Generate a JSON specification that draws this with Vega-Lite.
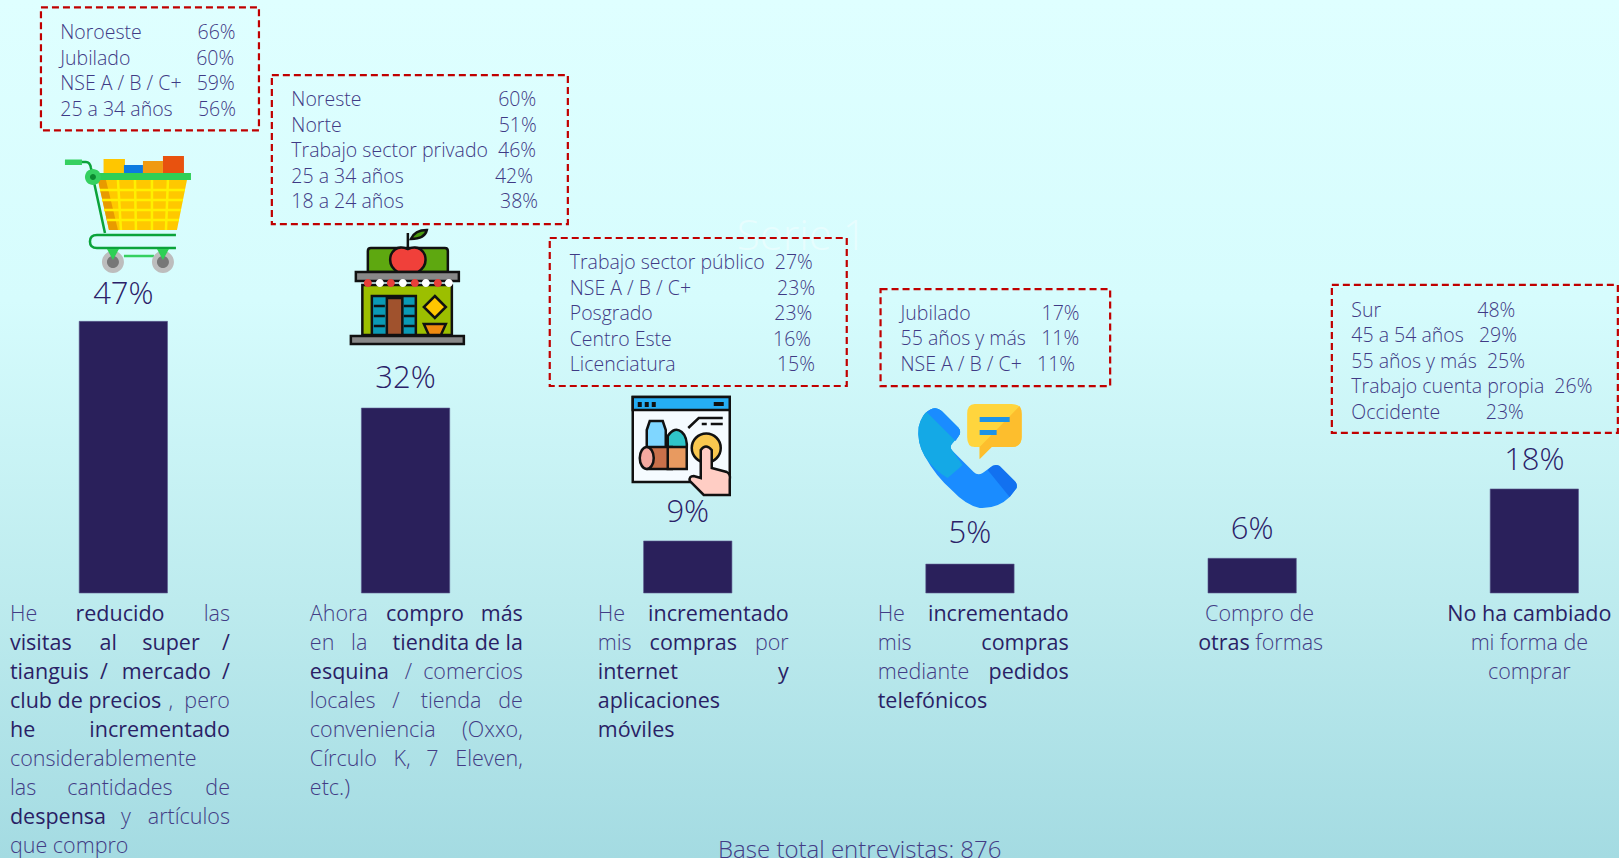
{"$schema":"https://vega.github.io/schema/vega-lite/v6.json","width":1619,"height":858,"autosize":{"type":"none"},"padding":0,"background":"#A5DCE2",
"view":{"stroke":null,"fill":{"gradient":"linear","x1":0,"y1":0,"x2":0,"y2":1,"stops":[{"offset":0,"color":"#DFFFFF"},{"offset":0.35,"color":"#D6FCFD"},{"offset":0.7,"color":"#BDEBEE"},{"offset":1,"color":"#A4DBE2"}]}},
"config":{"font":"Open Sans","text":{"font":"Open Sans"}},
"datasets":{
"barras":[{"categoria":"A","valor":47},{"categoria":"B","valor":32},{"categoria":"C","valor":9},{"categoria":"D","valor":5},{"categoria":"E","valor":6},{"categoria":"F","valor":18}],
"leyendas":[
{"categoria":"A","fila":0,"linea":"Noroeste\u00a0\u00a0\u00a0\u00a0\u00a0\u00a0\u00a0\u00a0\u00a0\u00a0\u00a066%"},{"categoria":"A","fila":1,"linea":"Jubilado\u00a0\u00a0\u00a0\u00a0\u00a0\u00a0\u00a0\u00a0\u00a0\u00a0\u00a0\u00a0\u00a060%"},{"categoria":"A","fila":2,"linea":"NSE A / B / C+\u00a0\u00a0\u00a059%"},{"categoria":"A","fila":3,"linea":"25 a 34 años\u00a0\u00a0\u00a0\u00a0\u00a056%"},
{"categoria":"B","fila":0,"linea":"Noreste\u00a0\u00a0\u00a0\u00a0\u00a0\u00a0\u00a0\u00a0\u00a0\u00a0\u00a0\u00a0\u00a0\u00a0\u00a0\u00a0\u00a0\u00a0\u00a0\u00a0\u00a0\u00a0\u00a0\u00a0\u00a0\u00a0\u00a060%"},{"categoria":"B","fila":1,"linea":"Norte\u00a0\u00a0\u00a0\u00a0\u00a0\u00a0\u00a0\u00a0\u00a0\u00a0\u00a0\u00a0\u00a0\u00a0\u00a0\u00a0\u00a0\u00a0\u00a0\u00a0\u00a0\u00a0\u00a0\u00a0\u00a0\u00a0\u00a0\u00a0\u00a0\u00a0\u00a051%"},{"categoria":"B","fila":2,"linea":"Trabajo sector privado\u00a0\u00a046%"},{"categoria":"B","fila":3,"linea":"25 a 34 años\u00a0\u00a0\u00a0\u00a0\u00a0\u00a0\u00a0\u00a0\u00a0\u00a0\u00a0\u00a0\u00a0\u00a0\u00a0\u00a0\u00a0\u00a042%"},{"categoria":"B","fila":4,"linea":"18 a 24 años\u00a0\u00a0\u00a0\u00a0\u00a0\u00a0\u00a0\u00a0\u00a0\u00a0\u00a0\u00a0\u00a0\u00a0\u00a0\u00a0\u00a0\u00a0\u00a038%"},
{"categoria":"C","fila":0,"linea":"Trabajo sector público\u00a0\u00a027%"},{"categoria":"C","fila":1,"linea":"NSE A / B / C+\u00a0\u00a0\u00a0\u00a0\u00a0\u00a0\u00a0\u00a0\u00a0\u00a0\u00a0\u00a0\u00a0\u00a0\u00a0\u00a0\u00a023%"},{"categoria":"C","fila":2,"linea":"Posgrado\u00a0\u00a0\u00a0\u00a0\u00a0\u00a0\u00a0\u00a0\u00a0\u00a0\u00a0\u00a0\u00a0\u00a0\u00a0\u00a0\u00a0\u00a0\u00a0\u00a0\u00a0\u00a0\u00a0\u00a023%"},{"categoria":"C","fila":3,"linea":"Centro Este\u00a0\u00a0\u00a0\u00a0\u00a0\u00a0\u00a0\u00a0\u00a0\u00a0\u00a0\u00a0\u00a0\u00a0\u00a0\u00a0\u00a0\u00a0\u00a0\u00a016%"},{"categoria":"C","fila":4,"linea":"Licenciatura\u00a0\u00a0\u00a0\u00a0\u00a0\u00a0\u00a0\u00a0\u00a0\u00a0\u00a0\u00a0\u00a0\u00a0\u00a0\u00a0\u00a0\u00a0\u00a0\u00a015%"},
{"categoria":"D","fila":0,"linea":"Jubilado\u00a0\u00a0\u00a0\u00a0\u00a0\u00a0\u00a0\u00a0\u00a0\u00a0\u00a0\u00a0\u00a0\u00a017%"},{"categoria":"D","fila":1,"linea":"55 años y más\u00a0\u00a0\u00a011%"},{"categoria":"D","fila":2,"linea":"NSE A / B / C+\u00a0\u00a0\u00a011%"},
{"categoria":"F","fila":0,"linea":"Sur\u00a0\u00a0\u00a0\u00a0\u00a0\u00a0\u00a0\u00a0\u00a0\u00a0\u00a0\u00a0\u00a0\u00a0\u00a0\u00a0\u00a0\u00a0\u00a048%"},{"categoria":"F","fila":1,"linea":"45 a 54 años\u00a0\u00a0\u00a029%"},{"categoria":"F","fila":2,"linea":"55 años y más\u00a0\u00a025%"},{"categoria":"F","fila":3,"linea":"Trabajo cuenta propia\u00a0\u00a026%"},{"categoria":"F","fila":4,"linea":"Occidente\u00a0\u00a0\u00a0\u00a0\u00a0\u00a0\u00a0\u00a0\u00a023%"}],
"textos":[
{"categoria":"A","fila":0,"texto":"He","lado":"left","negrita":false},{"categoria":"A","fila":0,"texto":"reducido","lado":"center","negrita":true},{"categoria":"A","fila":0,"texto":"las","lado":"right","negrita":false},
{"categoria":"A","fila":1,"texto":"visitas\u00a0\u00a0\u00a0\u00a0\u00a0al","lado":"left","negrita":true},{"categoria":"A","fila":1,"texto":"super\u00a0\u00a0\u00a0\u00a0/","lado":"right","negrita":true},
{"categoria":"A","fila":2,"texto":"tianguis\u00a0\u00a0/","lado":"left","negrita":true},{"categoria":"A","fila":2,"texto":"mercado\u00a0\u00a0/","lado":"right","negrita":true},
{"categoria":"A","fila":3,"texto":"club de precios","lado":"left","negrita":true},{"categoria":"A","fila":3,"texto":",\u00a0\u00a0pero","lado":"right","negrita":false},
{"categoria":"A","fila":4,"texto":"he","lado":"left","negrita":true},{"categoria":"A","fila":4,"texto":"incrementado","lado":"right","negrita":true},
{"categoria":"A","fila":5,"texto":"considerablemente","lado":"left","negrita":false},
{"categoria":"A","fila":6,"texto":"las","lado":"left","negrita":false},{"categoria":"A","fila":6,"texto":"cantidades","lado":"center","negrita":false},{"categoria":"A","fila":6,"texto":"de","lado":"right","negrita":false},
{"categoria":"A","fila":7,"texto":"despensa","lado":"left","negrita":true},{"categoria":"A","fila":7,"texto":"y\u00a0\u00a0\u00a0artículos","lado":"right","negrita":false},
{"categoria":"A","fila":8,"texto":"que compro","lado":"left","negrita":false},
{"categoria":"B","fila":0,"texto":"Ahora","lado":"left","negrita":false},{"categoria":"B","fila":0,"texto":"compro\u00a0\u00a0\u00a0más","lado":"right","negrita":true},
{"categoria":"B","fila":1,"texto":"en\u00a0\u00a0\u00a0la","lado":"left","negrita":false},{"categoria":"B","fila":1,"texto":"tiendita de la","lado":"right","negrita":true},
{"categoria":"B","fila":2,"texto":"esquina","lado":"left","negrita":true},{"categoria":"B","fila":2,"texto":"/\u00a0\u00a0comercios","lado":"right","negrita":false},
{"categoria":"B","fila":3,"texto":"locales\u00a0\u00a0\u00a0/","lado":"left","negrita":false},{"categoria":"B","fila":3,"texto":"tienda\u00a0\u00a0\u00a0de","lado":"right","negrita":false},
{"categoria":"B","fila":4,"texto":"conveniencia","lado":"left","negrita":false},{"categoria":"B","fila":4,"texto":"(Oxxo,","lado":"right","negrita":false},
{"categoria":"B","fila":5,"texto":"Círculo\u00a0\u00a0\u00a0K,","lado":"left","negrita":false},{"categoria":"B","fila":5,"texto":"7\u00a0\u00a0\u00a0Eleven,","lado":"right","negrita":false},
{"categoria":"B","fila":6,"texto":"etc.)","lado":"left","negrita":false},
{"categoria":"C","fila":0,"texto":"He","lado":"left","negrita":false},{"categoria":"C","fila":0,"texto":"incrementado","lado":"right","negrita":true},
{"categoria":"C","fila":1,"texto":"mis","lado":"left","negrita":false},{"categoria":"C","fila":1,"texto":"compras","lado":"center","negrita":true},{"categoria":"C","fila":1,"texto":"por","lado":"right","negrita":false},
{"categoria":"C","fila":2,"texto":"internet","lado":"left","negrita":true},{"categoria":"C","fila":2,"texto":"y","lado":"right","negrita":true},
{"categoria":"C","fila":3,"texto":"aplicaciones","lado":"left","negrita":true},{"categoria":"C","fila":4,"texto":"móviles","lado":"left","negrita":true},
{"categoria":"D","fila":0,"texto":"He","lado":"left","negrita":false},{"categoria":"D","fila":0,"texto":"incrementado","lado":"right","negrita":true},
{"categoria":"D","fila":1,"texto":"mis","lado":"left","negrita":false},{"categoria":"D","fila":1,"texto":"compras","lado":"right","negrita":true},
{"categoria":"D","fila":2,"texto":"mediante","lado":"left","negrita":false},{"categoria":"D","fila":2,"texto":"pedidos","lado":"right","negrita":true},
{"categoria":"D","fila":3,"texto":"telefónicos","lado":"left","negrita":true},
{"categoria":"E","fila":0,"texto":"Compro de","lado":"center","negrita":false},{"categoria":"E","fila":1,"texto":"otras","lado":"left","negrita":true},{"categoria":"E","fila":1,"texto":"formas","lado":"right","negrita":false},
{"categoria":"F","fila":0,"texto":"No ha cambiado","lado":"center","negrita":true},{"categoria":"F","fila":1,"texto":"mi forma de","lado":"center","negrita":false},{"categoria":"F","fila":2,"texto":"comprar","lado":"center","negrita":false}],
"piezas":[
{"categoria":"A","pieza":"c1"},{"categoria":"A","pieza":"c2"},{"categoria":"A","pieza":"c3"},{"categoria":"A","pieza":"c4"},{"categoria":"A","pieza":"c5"},{"categoria":"A","pieza":"c6"},{"categoria":"A","pieza":"c7"},{"categoria":"A","pieza":"c8"},{"categoria":"A","pieza":"c9"},{"categoria":"A","pieza":"c10"},{"categoria":"A","pieza":"c11"},{"categoria":"A","pieza":"c12"},{"categoria":"A","pieza":"c13"},{"categoria":"A","pieza":"c14"},{"categoria":"A","pieza":"c15"},{"categoria":"A","pieza":"c16"},{"categoria":"A","pieza":"c17"},
{"categoria":"B","pieza":"t1"},{"categoria":"B","pieza":"t2"},{"categoria":"B","pieza":"t3"},{"categoria":"B","pieza":"t4"},{"categoria":"B","pieza":"t5"},{"categoria":"B","pieza":"t6"},{"categoria":"B","pieza":"t7"},{"categoria":"B","pieza":"t8"},{"categoria":"B","pieza":"t9"},{"categoria":"B","pieza":"t10"},{"categoria":"B","pieza":"t11"},{"categoria":"B","pieza":"t12"},{"categoria":"B","pieza":"t13"},{"categoria":"B","pieza":"t14"},
{"categoria":"C","pieza":"w1"},{"categoria":"C","pieza":"w2"},{"categoria":"C","pieza":"w3"},{"categoria":"C","pieza":"w4"},{"categoria":"C","pieza":"w5"},{"categoria":"C","pieza":"w6"},{"categoria":"C","pieza":"w7"},{"categoria":"C","pieza":"w8"},{"categoria":"C","pieza":"w9"},{"categoria":"C","pieza":"w10"},{"categoria":"C","pieza":"w11"},
{"categoria":"D","pieza":"f1"},{"categoria":"D","pieza":"f2"},{"categoria":"D","pieza":"f3"},{"categoria":"D","pieza":"f4"},{"categoria":"D","pieza":"f5"},{"categoria":"D","pieza":"f6"},{"categoria":"D","pieza":"f7"}]
},
"encoding":{"x":{"field":"categoria","type":"nominal","axis":null,"scale":{"type":"band","domain":["A","B","C","D","E","F"],"range":[-17.75,1675.45],"paddingInner":0.687,"paddingOuter":0.3435}}},
"layer":[
{"data":{"values":[{"categoria":"C","nota":"Serie 1"}]},"mark":{"type":"text","fontSize":42,"fontWeight":300,"fill":"#FFFFFF","opacity":0.4,"dx":114,"baseline":"middle"},"encoding":{"y":{"datum":61.6,"type":"quantitative","axis":null,"scale":{"domain":[-45.85,102.6],"nice":false,"zero":false}},"text":{"field":"nota"}}},
{"data":{"name":"barras"},"mark":{"type":"bar","fill":"#2A205B","stroke":"#5D5A8E","strokeWidth":0.6},"encoding":{"y":{"field":"valor","type":"quantitative","axis":null,"scale":{"domain":[-45.85,102.6],"nice":false,"zero":false}}}},
{"data":{"name":"barras"},"transform":[{"calculate":"datum.valor+'%'","as":"etq"}],"mark":{"type":"text","fontSize":31,"fontWeight":300,"fill":"#2B2168","baseline":"middle","dy":{"expr":"{A:-26,B:-29.5,C:-28,D:-30,E:-28,F:-28}[datum.categoria]"}},"encoding":{"y":{"field":"valor","type":"quantitative"},"text":{"field":"etq"}}},
{"data":{"name":"piezas"},"transform":[{"lookup":"categoria","from":{"data":{"name":"barras"},"key":"categoria","fields":["valor"]}}],
"mark":{"type":"point","filled":true,"opacity":1,"size":4,"strokeWidth":2.5,"xOffset":{"expr":"{A:-123.4,B:-405.7,C:-688,D:-970.3}[datum.categoria]"},"yOffset":{"expr":"{A:-321.34,B:-408.04,C:-540.98,D:-564.1}[datum.categoria]"}},
"encoding":{"y":{"field":"valor","type":"quantitative"},
"shape":{"field":"pieza","type":"nominal","legend":null,"scale":{"domain":["c1","c2","c3","c4","c5","c6","c7","c8","c9","c10","c11","c12","c13","c14","c15","c16","c17","t1","t2","t3","t4","t5","t6","t7","t8","t9","t10","t11","t12","t13","t14","w1","w2","w3","w4","w5","w6","w7","w8","w9","w10","w11","f1","f2","f3","f4","f5","f6","f7"],
"range":["M103.6 159L125 159L125 173L103.6 173Z","M124 165L143 165L143 173L124 173Z","M143 161L163 161L163 173L143 173Z","M163 156L184 156L184 173L163 173Z","M98 180L187 180L177 230L109 230Z","M98 180L106 180L118 230L109 230Z","M100 190L185 190M102 200L183 200M104 210L181 210M107 220L179 220M118 180L121 230M135 180L136 230M152 180L152 230M168 180L166 230","M89 173L191 173L191 180L89 180Z","M68 162L86 162Q90 162 91 168L105 233","M65 159.5L82 159.5L82 165L65 165Z","M85 177A8 8 0 1 0 101 177A8 8 0 1 0 85 177Z","M176 235L97 235Q90 235 90 241.5Q90 248 97 248L176 248","M124 256L154 256","M102 262A11 11 0 1 0 124 262A11 11 0 1 0 102 262ZM152 262A11 11 0 1 0 174 262A11 11 0 1 0 152 262Z","M107 262A6 6 0 1 0 119 262A6 6 0 1 0 107 262ZM157 262A6 6 0 1 0 169 262A6 6 0 1 0 157 262Z","M107 249L119 249L113 260ZM157 249L169 249L163 260Z","M90 177A3 3 0 1 0 96 177A3 3 0 1 0 90 177Z",
"M368 272L368 251Q368 248 371 248L445 248Q448 248 448 251L448 272Z","M408 248L408 233","M411 239Q415 230 427 230Q425 239 411 239Z","M408 249Q420 244 425 255Q428 266 418 272L398 272Q388 266 391 255Q396 244 408 249Z","M362.5 285L452 285L452 335L362.5 335Z","M356 272L459 272L459 281L356 281Z","M364 283A4 4 0 1 0 372 283A4 4 0 1 0 364 283ZM387 283A4 4 0 1 0 395 283A4 4 0 1 0 387 283ZM411 283A4 4 0 1 0 419 283A4 4 0 1 0 411 283ZM434 283A4 4 0 1 0 442 283A4 4 0 1 0 434 283Z","M376 283A4 4 0 1 0 384 283A4 4 0 1 0 376 283ZM399 283A4 4 0 1 0 407 283A4 4 0 1 0 399 283ZM422 283A4 4 0 1 0 430 283A4 4 0 1 0 422 283ZM445 283A4 4 0 1 0 453 283A4 4 0 1 0 445 283Z","M372 296L416 296L416 335L372 335Z","M387 298L402.5 298L402.5 335L387 335Z","M374 306L385 306M374 316L385 316M374 326L385 326M404 306L415 306M404 316L415 316M404 326L415 326","M435 296L446 307L435 318L424 307Z","M424 324L446 324L441 335L429 335Z","M351 336L464 336L464 344L351 344Z",
"M633 397L730 397L730 482L633 482Z","M633 397L730 397L730 410L633 410Z","M638 402L642 402L642 407L638 407ZM645 402L649 402L649 407L645 407ZM652 402L656 402L656 407L652 407ZM714 402L724 402L724 406L714 406Z","M688.5 428L699 418L723 418M702 424L707 424M711 424L723 424","M647 430L650 421L663 421L666 430L666 450L647 450Z","M668 450L668 436Q675 426 682 432Q688 437 687 450Z","M648 447L672 447L672 469L648 469Z","M640 458A7 11 0 1 0 654 458A7 11 0 1 0 640 458Z","M668 447L687 447L687 469L668 469Z","M692 448A14.5 14.5 0 1 0 721 448A14.5 14.5 0 1 0 692 448Z","M701 450Q706 443 712 450L712 468L727 472Q731 474 730 480L730 495L704 495L690 481Q689 476 694 476L701 478Z",
"M975 404L1012 404Q1022 404 1022 414L1022 437Q1022 447 1012 447L992 447L980 459L980 447L975 447Q967.5 447 967.5 437L967.5 414Q967.5 404 975 404Z","M1020 406Q1022 409 1022 414L1022 437Q1022 447 1012 447L992 447L980 459L980 447Z","M980 417L1010 417L1010 422L980 422ZM980 430L997 430L997 435L980 435Z","M930 410Q922 414 919 427Q917 442 925 456Q936 476 952 490Q966 505 980 508Q998 509 1010 497L1017 488Q1018 484 1015 481L1000 466Q995 463 990 468L983 473Q978 476 974 472L953 451Q949 447 953 443L959 436Q962 432 959 428L942 411Q936 406 930 410Z","M930 410Q922 414 919 427Q917 442 925 456Q934 470 948 478L963 465L953 451Q949 447 953 443L959 436Q962 432 959 428L942 411Q936 406 930 410Z","M927 412L956 441L959 436Q962 432 959 428L942 411Q936 406 930 410Z","M1000 466L1015 481Q1018 484 1017 488L1010 497L988 470L990 468Q995 463 1000 466Z"]}},
"fill":{"field":"pieza","type":"nominal","legend":null,"scale":{"domain":["c1","c2","c3","c4","c5","c6","c7","c8","c9","c10","c11","c12","c13","c14","c15","c16","c17","t1","t2","t3","t4","t5","t6","t7","t8","t9","t10","t11","t12","t13","t14","w1","w2","w3","w4","w5","w6","w7","w8","w9","w10","w11","f1","f2","f3","f4","f5","f6","f7"],
"range":["#FFC600","#0C7BE0","#F09A10","#E8520F","#FFC800","#E89A00","transparent","#2FCF55","transparent","#35D060","#35D060","transparent","transparent","#BDBDBD","#777777","#2FCF55","#0B8A30",
"#5EA810","transparent","#4A9A10","#F0403A","#9CBF00","#888888","#E8403A","#FFFFFF","#0B9AB5","#A0522D","transparent","#FFC600","#F08A10","#888888",
"#F5FBFF","#25AEF5","#111111","transparent","#7FD6FF","#30C4C8","#C9704A","#F5A9A0","#E89A60","#F9C74F","#FFCDC4",
"#FFD53D","#FDBE2D","#1C93E8","#1A8CFF","#14A9E6","#1A8CFF","#1271F0"]}},
"stroke":{"field":"pieza","type":"nominal","legend":null,"scale":{"domain":["c1","c2","c3","c4","c5","c6","c7","c8","c9","c10","c11","c12","c13","c14","c15","c16","c17","t1","t2","t3","t4","t5","t6","t7","t8","t9","t10","t11","t12","t13","t14","w1","w2","w3","w4","w5","w6","w7","w8","w9","w10","w11","f1","f2","f3","f4","f5","f6","f7"],
"range":["transparent","transparent","transparent","transparent","transparent","transparent","#FFF000","transparent","#0BA33A","transparent","transparent","#0BA33A","#35D060","transparent","transparent","transparent","transparent",
"#111111","#111111","#111111","#111111","#111111","#111111","transparent","transparent","#111111","#111111","#111111","#111111","#111111","#111111",
"#111111","#111111","transparent","#111111","#111111","#111111","#111111","#111111","#111111","#111111","#111111",
"transparent","transparent","transparent","transparent","transparent","transparent","transparent"]}}}},
{"data":{"name":"barras"},"transform":[{"filter":"datum.categoria!='E'"}],
"mark":{"type":"rect","fill":"transparent","stroke":"#C00000","strokeWidth":2.2,"strokeDash":[7,4],"xOffset":{"expr":"{A:26.6,B:14.3,C:10.5,D:25.4,F:-59.5}[datum.categoria]"},"yOffset":{"expr":"{A:-252.5,B:-258.5,C:-229,D:-226.5,F:-130}[datum.categoria]"},"width":{"expr":"{A:218,B:296,C:297,D:229.6,F:286}[datum.categoria]"},"height":{"expr":"{A:123,B:149,C:148,D:97,F:148}[datum.categoria]"}},
"encoding":{"y":{"field":"valor","type":"quantitative"}}},
{"data":{"name":"leyendas"},"transform":[{"lookup":"categoria","from":{"data":{"name":"barras"},"key":"categoria","fields":["valor"]}}],
"mark":{"type":"text","fontSize":19.5,"fontWeight":300,"fill":"#3F3A85","align":"left","baseline":"middle","dx":{"expr":"{A:-63.1,B:-114.2,C:-118,D:-69.4,F:-183}[datum.categoria]"},"dy":{"expr":"{A:-288,B:-308,C:-277.5,D:-250.5,F:-178}[datum.categoria]+datum.fila*25.5"}},
"encoding":{"y":{"field":"valor","type":"quantitative"},"text":{"field":"linea"}}},
{"data":{"name":"textos"},
"mark":{"type":"text","fontSize":21.5,"baseline":"middle","align":{"expr":"datum.lado"},"fontWeight":{"expr":"datum.negrita?400:300"},"fill":{"expr":"datum.negrita?'#2A1F66':'#423C85'"},
"dx":{"expr":"{A:{left:-113.4,center:-3.4,right:106.6},B:{left:-95.7,center:0,right:117.3},C:{left:-90,center:5.5,right:101},D:{left:-92.3,center:0,right:98.7},E:{left:-54,center:7.4,right:70.9},F:{left:-5,center:-5,right:-5}}[datum.categoria][datum.lado]"},"dy":{"expr":"22.5+datum.fila*28.9"}},
"encoding":{"y":{"datum":0,"type":"quantitative"},"text":{"field":"texto"}}},
{"data":{"values":[{"categoria":"C","nota":"Base total entrevistas: 876"}]},"mark":{"type":"text","fontSize":24,"fontWeight":300,"fill":"#423C85","baseline":"middle","dx":172},"encoding":{"y":{"datum":-44.6,"type":"quantitative"},"text":{"field":"nota"}}}
]}
